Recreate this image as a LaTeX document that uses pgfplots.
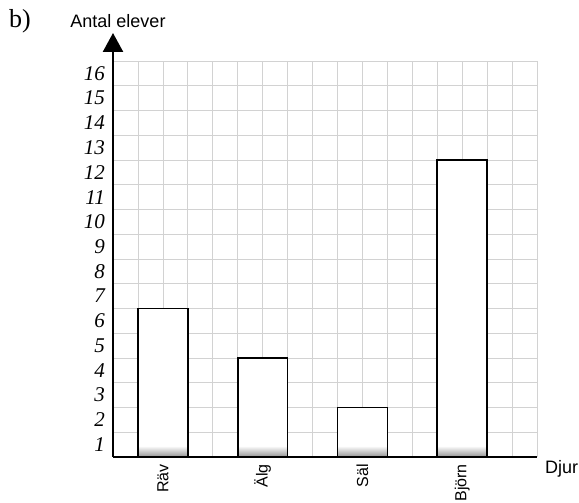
\documentclass[border=0pt]{standalone}
\usepackage{pgfplots}
\pgfplotsset{compat=1.18}
\usepackage{fontspec}
\setmainfont{Liberation Serif}
\newfontfamily\sans{Liberation Sans}
\usetikzlibrary{arrows.meta}
\begin{document}
\begin{tikzpicture}[x=1pt,y=1pt]
\useasboundingbox (0,0) rectangle (579,503);
\begin{axis}[
  at={(113pt,46pt)}, anchor=south west,
  scale only axis, width=424pt, height=396pt,
  xmin=0, xmax=17, ymin=0, ymax=16,
  axis lines*=left,
  axis line style={line width=2.4pt},
  x axis line style={-},
  y axis line style={-{Triangle[width=20pt,length=19pt]}, shorten >=-28pt},
  xtick={2,6,10,14},
  xticklabels={Räv,Älg,Säl,Björn},
  xticklabel style={yshift=-7pt, rotate=90, anchor=east, font=\sans\fontsize{16}{16}\selectfont, inner sep=0pt},
  ytick={0.5,1.5,...,15.5},
  yticklabels={1,2,3,4,5,6,7,8,9,10,11,12,13,14,15,16},
  yticklabel style={font=\fontsize{21}{21}\selectfont\itshape, inner sep=0pt, xshift=-8pt},
  minor xtick={1,2,...,17},
  minor ytick={1,2,...,16},
  xminorgrids, yminorgrids,
  minor grid style={draw=gray!35, line width=0.7pt},
  major tick length=0pt, minor tick length=0pt,
  ybar, bar width=2, bar shift=0pt,
  clip=false,
]
\addplot[fill=white, draw=none] coordinates {(2,6) (6,4) (10,2) (14,12)};
\addplot[draw=none, top color=white, bottom color=gray!85, shading angle=0] coordinates {(2,0.45) (6,0.45) (10,0.45) (14,0.45)};
\addplot[fill=none, draw=black, line width=1.7pt] coordinates {(2,6) (6,4) (10,2) (14,12)};
\end{axis}
\node[font=\sans\fontsize{18}{18}\selectfont] at (118,482) {Antal elever};
\node[font=\fontsize{26}{26}\selectfont] at (20,482) {b)};
\node[font=\sans\fontsize{18}{18}\selectfont, anchor=west, inner sep=0pt] at (545,34) {Djur};
\end{tikzpicture}
\end{document}
